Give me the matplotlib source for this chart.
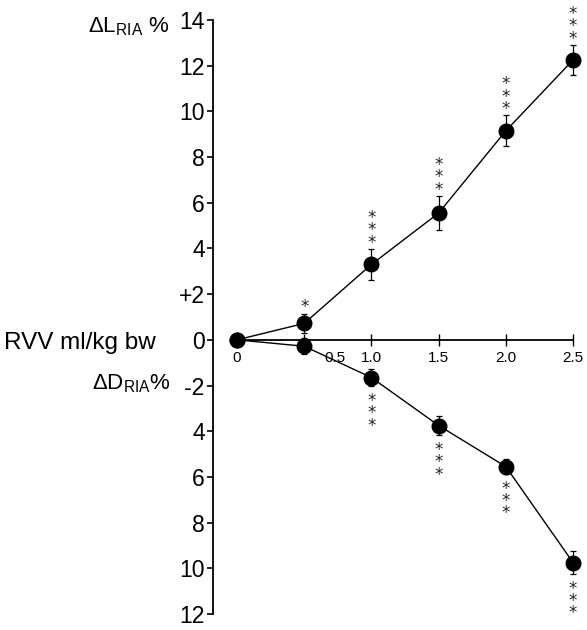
import matplotlib
matplotlib.use("Agg")
import matplotlib.pyplot as plt
import matplotlib.transforms as mtransforms

FONT = ['Liberation Sans', 'DejaVu Sans']
plt.rcParams['font.family'] = FONT
plt.rcParams['mathtext.fontset'] = 'custom'
plt.rcParams['mathtext.rm'] = 'Liberation Sans'
plt.rcParams['mathtext.it'] = 'Liberation Sans:italic'
plt.rcParams['mathtext.bf'] = 'Liberation Sans:bold'

# Data
rvv = [0, 0.5, 1.0, 1.5, 2.0, 2.5]
dL = [0, 0.72, 3.3, 5.55, 9.15, 12.25]
dL_err = [0, 0.42, 0.68, 0.75, 0.67, 0.65]
dL_stars = [0, 1, 3, 3, 3, 3]
dD = [0, -0.28, -1.65, -3.75, -5.55, -9.75]
dD_err = [0, 0.35, 0.38, 0.43, 0.32, 0.5]
dD_stars = [0, 0, 3, 3, 3, 3]

xticks = [0, 0.5, 1.0, 1.5, 2.0, 2.5]
xticklabels = ['0', '0.5', '1.0', '1.5', '2.0', '2.5']
yticks = [-12, -10, -8, -6, -4, -2, 0, 2, 4, 6, 8, 10, 12, 14]
yticklabels = ['12', '10', '8', '6', '4', '-2', '0', '+2', '4', '6', '8', '10', '12', '14']

fig = plt.figure(figsize=(5.87, 6.30), dpi=100)
ax = fig.add_axes([213/587, 16/630, 370/587, 594/630])
ax.set_xlim(-0.1786, 2.574)
ax.set_ylim(-12, 14)

for s in ['top', 'right']:
    ax.spines[s].set_visible(False)
ax.spines['left'].set_linewidth(1.3)
ax.spines['bottom'].set_position(('data', 0))
ax.spines['bottom'].set_bounds(0, 2.5)
ax.spines['bottom'].set_linewidth(1.3)

ax.set_yticks(yticks)
ax.set_yticklabels(yticklabels, fontsize=16.5)
ax.tick_params(axis='y', direction='out', length=4, width=1.2, pad=2)
ax.set_xticks(xticks)
ax.set_xticklabels(xticklabels, fontsize=11)
ax.tick_params(axis='x', direction='inout', length=8, width=1.0, pad=4)

for lab in ax.get_xticklabels():
    if lab.get_text() == '0.5':
        lab.set_transform(lab.get_transform() + mtransforms.ScaledTranslation(31/100, 0, fig.dpi_scale_trans))

for y, e, st, sign in [(dL, dL_err, dL_stars, 1), (dD, dD_err, dD_stars, -1)]:
    ax.errorbar(rvv[1:], y[1:], yerr=e[1:], fmt='none', ecolor='black',
                elinewidth=0.9, capsize=2.5, capthick=0.9, zorder=2)
    ax.plot(rvv, y, color='black', lw=1.0, marker='o', markersize=10.5,
            markerfacecolor='black', markeredgecolor='black', zorder=3)
    for xv, yv, ev, n in zip(rvv, y, e, st):
        if n == 0:
            continue
        yc = yv + sign * (ev + 0.5 + 0.5 * (n - 1) / 2)
        ax.annotate('\n'.join(['*'] * n), xy=(xv, yc), xytext=(0, -3),
                    textcoords='offset points', ha='center', va='center',
                    fontsize=12, linespacing=0.6, family='DejaVu Sans',
                    color='#222222')

fig.text(88/587, 1 - 27/630, r'ΔL$_{\mathrm{RIA}}$ %', fontsize=16, ha='left', va='center')
fig.text(4/587, 1 - 343/630, 'RVV ml/kg bw', fontsize=17.5, ha='left', va='center')
fig.text(92/587, 1 - 384/630, r'ΔD$_{\mathrm{RIA}}$%', fontsize=16, ha='left', va='center')

fig.savefig('out.png', dpi=100)
